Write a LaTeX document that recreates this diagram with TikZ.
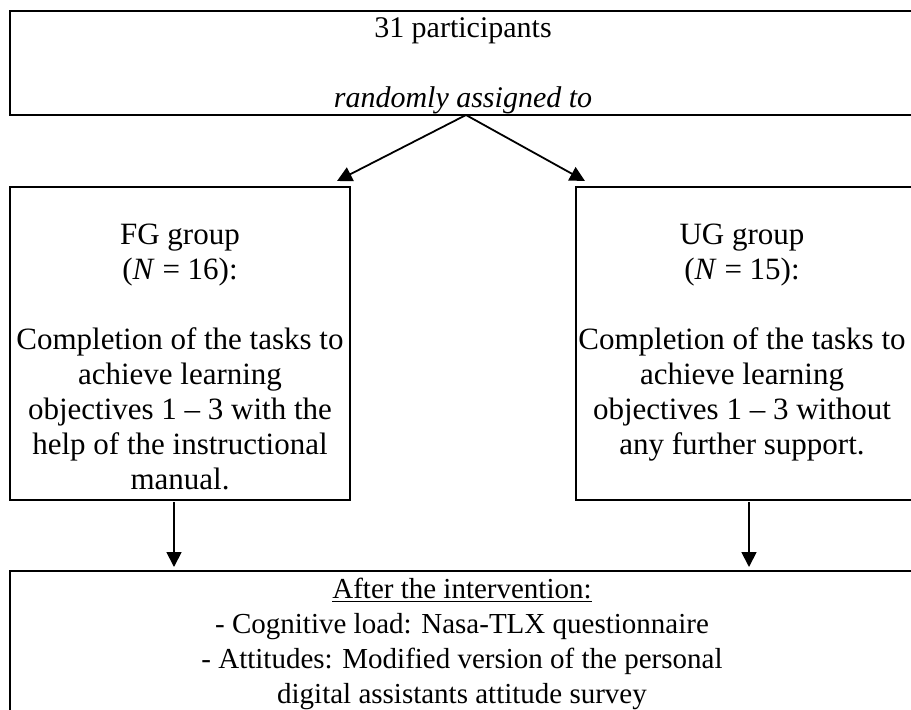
\documentclass[tikz,border=0pt]{standalone}
\usepackage{fontspec}
\setmainfont{Liberation Serif}
\usetikzlibrary{arrows.meta}
\begin{document}
\begin{tikzpicture}[x=0.5pt,y=-0.5pt,
  box/.style={draw, line width=1.3pt, inner sep=0pt, outer sep=0pt, anchor=north west},
  txt/.style={inner sep=0pt, outer sep=0pt, anchor=north, align=center},
  big/.style={txt, font=\fontsize{15.5pt}{17.5pt}\selectfont},
  mid/.style={txt, font=\fontsize{15pt}{17.5pt}\selectfont},
  small/.style={txt, font=\fontsize{14.5pt}{17.5pt}\selectfont},
  arr/.style={line width=0.9pt, -{Triangle[length=7.5pt,width=7.5pt]}}]
\useasboundingbox (0,0) rectangle (911,709);
\clip (0,0) rectangle (911,709);
\node[box, minimum width=457.5pt, minimum height=52pt] (top) at (10,11) {};
\node[box, minimum width=170pt, minimum height=156.5pt] (fg) at (10,187) {};
\node[box, minimum width=175pt, minimum height=156.5pt] (ug) at (576,187) {};
\node[box, minimum width=460pt, minimum height=75pt] (out) at (10,571) {};
\node[mid] (toptxt) at (463,12.5) {\strut 31 participants\\[17.5pt] \textit{randomly assigned to}};
\node[big] (fgtxt) at (180,219.5) {\strut FG group\\(\textit{N} = 16):\\[17.5pt] Completion of the tasks to\\achieve learning\\objectives 1 – 3 with the\\help of the instructional\\manual.};
\node[big] (ugtxt) at (742,219.5) {\strut UG group\\(\textit{N} = 15):\\[17.5pt] Completion of the tasks to\\achieve learning\\objectives 1 – 3 without\\any further support.};
\node[small] (outtxt) at (462,573.5) {\strut\underline{After the intervention:}\\- Cognitive load: Nasa-TLX questionnaire\\- Attitudes: Modified version of the personal\\digital assistants attitude survey};
\coordinate (ap) at (466,115);
\coordinate (t1) at (337,181);
\coordinate (t2) at (585,181);
\coordinate (v1) at (174,567);
\coordinate (v2) at (749,567);
\draw[arr] (top.south -| ap) -- (t1);
\draw[arr] (top.south -| ap) -- (t2);
\draw[arr] (fg.south -| v1) ++(0,2) -- (v1);
\draw[arr] (ug.south -| v2) ++(0,2) -- (v2);
\end{tikzpicture}
\end{document}
